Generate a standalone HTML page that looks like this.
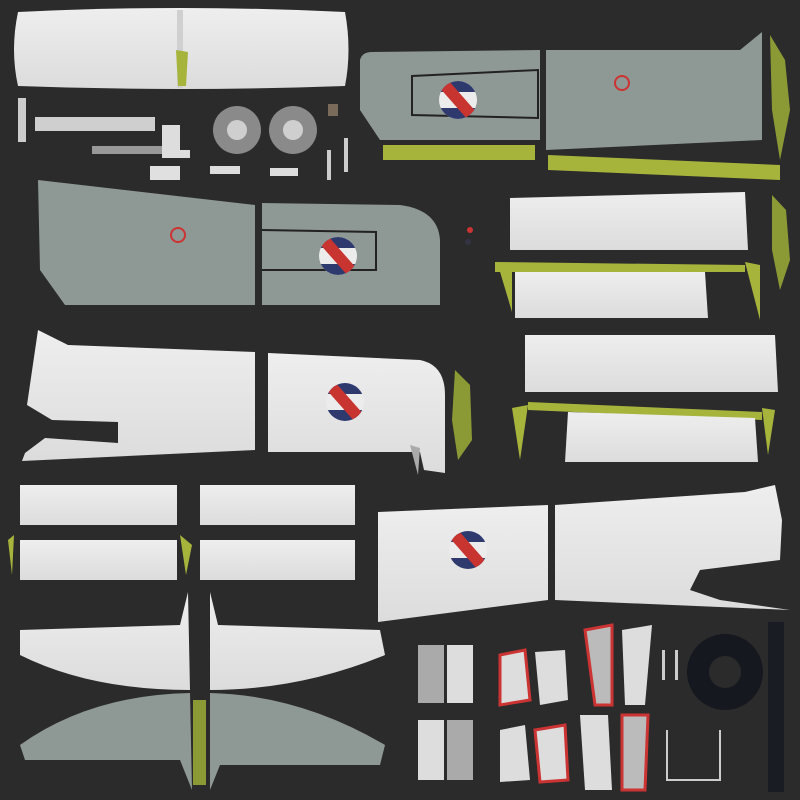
<!DOCTYPE html>
<html><head><meta charset="utf-8"><style>
html,body{margin:0;padding:0;background:#2b2b2b;}
svg{display:block}
</style></head><body>
<svg width="800" height="800" viewBox="0 0 800 800" xmlns="http://www.w3.org/2000/svg">
<defs>
<linearGradient id="wh" x1="0" y1="0" x2="0" y2="1"><stop offset="0" stop-color="#eeeeee"/><stop offset="1" stop-color="#dcdcdc"/></linearGradient>
<clipPath id="rc"><circle r="19"/></clipPath>
<g id="roundel"><circle r="19" fill="#ececec"/>
<g clip-path="url(#rc)"><rect x="-20" y="-20" width="40" height="12" fill="#2e3a6e"/><rect x="-20" y="8" width="40" height="12" fill="#2e3a6e"/>
<path d="M-20,-14 L-10,-20 L20,14 L10,20Z" fill="#c8342f"/></g></g>
</defs>
<rect width="800" height="800" fill="#2b2b2b"/>

<!-- top elevator -->
<path d="M18,12 Q180,4 345,12 Q352,50 345,86 Q180,92 18,86 Q10,50 18,12Z" fill="url(#wh)"/>
<rect x="177" y="10" width="6" height="78" fill="#d0d0d0"/>
<path d="M176,50 L188,52 L186,86 L178,86Z" fill="#a7b43c"/>

<!-- small parts row -->
<rect x="18" y="98" width="8" height="44" fill="#ccc"/>
<rect x="35" y="117" width="120" height="14" fill="#cfcfcf"/>
<rect x="92" y="146" width="70" height="8" fill="#999"/>
<path d="M162,125 L180,125 L180,150 L190,150 L190,158 L162,158Z" fill="#ddd"/>
<rect x="150" y="166" width="30" height="14" fill="#e0e0e0"/>
<circle cx="237" cy="130" r="24" fill="#8a8a8a"/><circle cx="237" cy="130" r="10" fill="#cfcfcf"/>
<circle cx="293" cy="130" r="24" fill="#8a8a8a"/><circle cx="293" cy="130" r="10" fill="#cfcfcf"/>
<rect x="210" y="166" width="30" height="8" fill="#ddd"/><rect x="270" y="168" width="28" height="8" fill="#ddd"/>
<rect x="328" y="104" width="10" height="12" fill="#7a6a5a"/>
<rect x="327" y="150" width="4" height="30" fill="#ccc"/><rect x="344" y="138" width="4" height="34" fill="#ccc"/>

<!-- grey wing top right -->
<path d="M360,60 Q362,52 372,52 L540,50 L540,140 L380,140 L360,110Z" fill="#8e9894"/>
<path d="M546,50 L740,50 L762,32 L762,140 L546,150Z" fill="#8e9894"/>
<path d="M412,76 L538,70 L538,118 L412,115Z" fill="none" stroke="#222" stroke-width="2"/>
<use href="#roundel" x="458" y="100"/>
<circle cx="622" cy="83" r="7" fill="none" stroke="#c33" stroke-width="2"/>
<path d="M383,145 L535,145 L535,160 L383,160Z" fill="#a7b43c"/>
<path d="M548,155 L780,165 L780,180 L548,170Z" fill="#a7b43c"/>
<path d="M770,35 L785,60 L790,110 L780,160 L772,110Z" fill="#8c9a36"/>

<!-- grey wing 2 -->
<path d="M38,180 L255,205 L255,305 L65,305 L40,270Z" fill="#8e9894"/>
<path d="M262,203 L400,205 Q438,210 440,240 L440,305 L262,305Z" fill="#8e9894"/>
<path d="M262,230 L376,232 L376,270 L262,270" fill="none" stroke="#222" stroke-width="2"/>
<use href="#roundel" x="338" y="256"/>
<circle cx="178" cy="235" r="7" fill="none" stroke="#c33" stroke-width="2"/>
<circle cx="470" cy="230" r="3" fill="#c33"/><circle cx="468" cy="242" r="3" fill="#334"/>

<!-- right white panels -->
<path d="M510,198 L745,192 L748,250 L510,250Z" fill="url(#wh)"/>
<path d="M495,262 L745,265 L745,272 L495,272Z" fill="#a7b43c"/>
<path d="M515,272 L705,272 L708,318 L515,318Z" fill="url(#wh)"/>
<path d="M498,265 L512,265 L512,312Z" fill="#a7b43c"/>
<path d="M745,262 L760,265 L760,320Z" fill="#a7b43c"/>
<path d="M772,195 L786,210 L790,260 L780,290 L772,250Z" fill="#8c9a36"/>
<path d="M525,335 L775,335 L778,392 L525,392Z" fill="url(#wh)"/>
<path d="M528,402 L762,412 L762,420 L528,410Z" fill="#a7b43c"/>
<path d="M568,412 L755,418 L758,462 L565,462Z" fill="url(#wh)"/>
<path d="M512,408 L528,405 L520,460Z" fill="#a7b43c"/>
<path d="M762,408 L775,410 L768,455Z" fill="#a7b43c"/>
<path d="M455,370 L470,385 L472,440 L458,460 L452,420Z" fill="#8c9a36"/>

<!-- white wing 2 -->
<path d="M38,330 L68,345 L255,352 L255,450 L22,461 L25,453 L45,438 L118,443 L118,422 L52,420 L27,405Z" fill="url(#wh)"/>
<path d="M268,353 L420,360 Q445,365 445,395 L445,473 L424,470 L420,452 L268,452Z" fill="url(#wh)"/>
<path d="M410,445 L420,448 L418,475Z" fill="#aaa"/>
<use href="#roundel" x="345" y="402"/>

<!-- small white rects -->
<rect x="20" y="485" width="157" height="40" fill="url(#wh)"/>
<rect x="200" y="485" width="155" height="40" fill="url(#wh)"/>
<rect x="20" y="540" width="157" height="40" fill="url(#wh)"/>
<rect x="200" y="540" width="155" height="40" fill="url(#wh)"/>
<path d="M8,540 L14,535 L12,575Z" fill="#a7b43c"/>
<path d="M180,535 L192,545 L186,575Z" fill="#a7b43c"/>

<!-- white wing 3 -->
<path d="M378,512 L548,505 L548,600 L378,622Z" fill="url(#wh)"/>
<path d="M555,505 L745,492 L775,485 L782,520 L780,560 L700,570 L690,590 L720,600 L790,610 L555,600Z" fill="url(#wh)"/>
<use href="#roundel" x="468" y="550"/>

<!-- bottom stabilizers -->
<path d="M20,630 L180,625 L188,592 L190,690 Q90,690 20,655Z" fill="url(#wh)"/>
<path d="M210,592 L218,625 L380,630 L385,655 Q300,690 210,690Z" fill="url(#wh)"/>
<path d="M20,745 Q90,695 190,693 L192,790 L180,760 L25,760Z" fill="#8e9894"/>
<path d="M210,693 Q300,695 385,745 L380,765 L220,765 L210,790Z" fill="#8e9894"/>
<path d="M193,700 L206,700 L206,785 L193,785Z" fill="#8c9a36"/>

<!-- bottom right parts -->
<rect x="418" y="645" width="26" height="58" fill="#aaa"/>
<rect x="447" y="645" width="26" height="58" fill="#ddd"/>
<rect x="418" y="720" width="26" height="60" fill="#ddd"/>
<rect x="447" y="720" width="26" height="60" fill="#aaa"/>
<path d="M500,655 L525,650 L530,700 L500,705Z" fill="#ddd" stroke="#c33" stroke-width="3"/>
<path d="M535,652 L565,650 L568,700 L540,705Z" fill="#ddd"/>
<path d="M500,730 L525,725 L530,780 L500,782Z" fill="#ddd"/>
<path d="M535,730 L565,725 L568,780 L540,782Z" fill="#ddd" stroke="#c33" stroke-width="3"/>
<path d="M585,630 L612,625 L612,705 L595,705Z" fill="#bbb" stroke="#c33" stroke-width="3"/>
<path d="M622,630 L652,625 L645,705 L625,705Z" fill="#ddd"/>
<path d="M580,715 L608,715 L612,790 L585,790Z" fill="#ddd"/>
<path d="M622,715 L648,715 L645,790 L622,790Z" fill="#bbb" stroke="#c33" stroke-width="3"/>
<circle cx="725" cy="672" r="38" fill="#15181f"/><circle cx="725" cy="672" r="16" fill="#2b2b2b"/>
<rect x="768" y="622" width="16" height="170" fill="#1a1c24"/>
<path d="M667,730 L667,780 L720,780 L720,730" fill="none" stroke="#ccc" stroke-width="2"/>
<rect x="662" y="650" width="3" height="30" fill="#ccc"/><rect x="675" y="650" width="3" height="30" fill="#ccc"/>
</svg>
</body></html>
